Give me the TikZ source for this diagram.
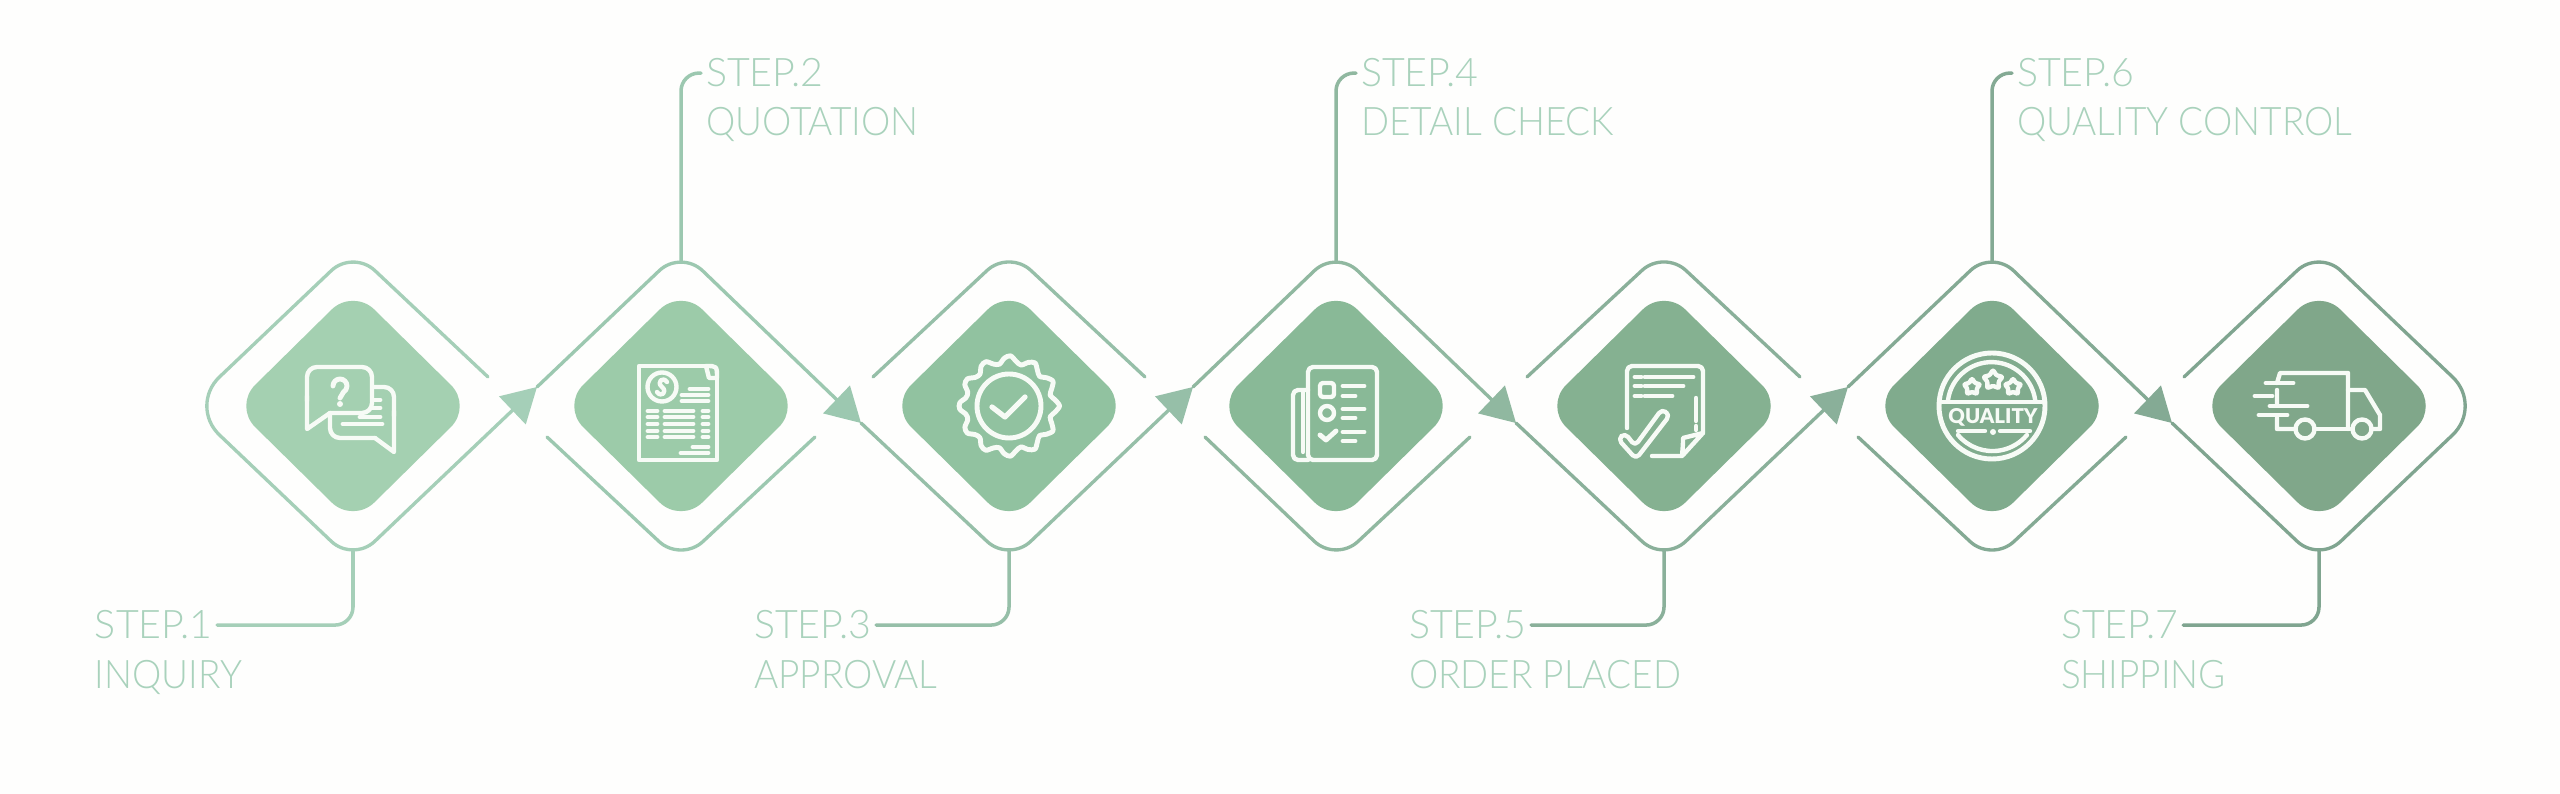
\documentclass[tikz,border=0pt]{standalone}
\usepackage{fontspec}
\setmainfont{Lato}[UprightFont=* Light,BoldFont=* Black]
\usetikzlibrary{positioning}
\usetikzlibrary{shapes.geometric}
\usetikzlibrary{arrows.meta}
\definecolor{paper}{HTML}{FEFEFD}
\definecolor{labeltext}{HTML}{A9D2BC}
\definecolor{iconwhite}{HTML}{F7FBF6}
\definecolor{fillA}{HTML}{A4D0B1}
\definecolor{fillB}{HTML}{9CCBA9}
\definecolor{fillC}{HTML}{91C2A0}
\definecolor{fillD}{HTML}{89B997}
\definecolor{fillE}{HTML}{85B191}
\definecolor{fillF}{HTML}{80AB8D}
\definecolor{fillG}{HTML}{80A78A}
\definecolor{lineA}{HTML}{A5CFB8}
\definecolor{lineB}{HTML}{9CC8B0}
\definecolor{lineC}{HTML}{96BFA8}
\definecolor{lineD}{HTML}{90B8A0}
\definecolor{lineE}{HTML}{8AB09A}
\definecolor{lineF}{HTML}{84AA94}
\definecolor{lineG}{HTML}{80A590}
\tikzstyle{every node}=[font=\fontsize{11.2}{13}\selectfont,inner sep=0,outer sep=0]
\tikzstyle{every path}=[line width=0.95pt,line cap=round,line join=round]
\tikzstyle{ring}=[diamond,minimum width=3.28cm,minimum height=3.12cm]
\tikzstyle{core}=[diamond,minimum width=2.385cm,minimum height=2.35cm,rounded corners=0.3cm]
\tikzstyle{edge}=[rounded corners=0.3cm]
\tikzstyle{flow}=[edge,-{Triangle[length=0.34cm,width=0.38cm]}]
\tikzstyle{leader}=[rounded corners=0.18cm,line width=1pt,shorten >=0.05cm]
\tikzstyle{steptext}=[anchor=base west,text=labeltext]
\tikzstyle{titletext}=[anchor=base west,text=labeltext,font=\fontsize{11.2}{13}\selectfont\addfontfeature{FakeStretch=0.94}]
\tikzstyle{icon}=[draw=iconwhite,line width=1.25pt]
\tikzstyle{bar}=[draw=iconwhite,line width=1.4pt]

\begin{document}
\begin{tikzpicture}
  \path[use as bounding box,fill=paper] (0,0) rectangle (25.6,7.94);
  % outer frames, only used for their corners
  \node[ring] (r1) at (3.53,3.88) {};
  \node[ring] (r2) at (6.81,3.88) {};
  \node[ring] (r3) at (10.09,3.88) {};
  \node[ring] (r4) at (13.36,3.88) {};
  \node[ring] (r5) at (16.64,3.88) {};
  \node[ring] (r6) at (19.92,3.88) {};
  \node[ring] (r7) at (23.19,3.88) {};
  % filled centres
  \node[core,fill=fillA] (d1) at (r1) {};
  \node[core,fill=fillB] (d2) at (r2) {};
  \node[core,fill=fillC] (d3) at (r3) {};
  \node[core,fill=fillD] (d4) at (r4) {};
  \node[core,fill=fillE] (d5) at (r5) {};
  \node[core,fill=fillF] (d6) at (r6) {};
  \node[core,fill=fillG] (d7) at (r7) {};
  % arrow ends and loose ends of the frames
  \coordinate (tip1) at (5.37,4.07);
  \coordinate (tip2) at (8.61,3.71);
  \coordinate (tip3) at (11.93,4.07);
  \coordinate (tip4) at (15.16,3.71);
  \coordinate (tip5) at (18.48,4.07);
  \coordinate (tip6) at (21.72,3.71);
  \coordinate (end1) at (4.88,4.17);
  \coordinate (in2) at (5.47,3.57);
  \coordinate (out2) at (8.15,3.57);
  \coordinate (in3) at (8.73,4.17);
  \coordinate (out3) at (11.45,4.17);
  \coordinate (in4) at (12.05,3.57);
  \coordinate (out4) at (14.70,3.57);
  \coordinate (in5) at (15.27,4.17);
  \coordinate (out5) at (18.00,4.17);
  \coordinate (in6) at (18.58,3.57);
  \coordinate (out6) at (21.26,3.57);
  \coordinate (end7) at (21.84,4.17);
  % frames
  \draw[flow,draw=lineA] (end1) -- (r1.north) [rounded corners=0.42cm] -- (r1.west) [rounded corners=0.3cm] -- (r1.south) -- (tip1);
  \draw[flow,draw=lineB] (tip1) -- (r2.north) -- (tip2);
  \draw[edge,draw=lineB] (in2) -- (r2.south) -- (out2);
  \draw[flow,draw=lineC] (tip2) -- (r3.south) -- (tip3);
  \draw[edge,draw=lineC] (in3) -- (r3.north) -- (out3);
  \draw[flow,draw=lineD] (tip3) -- (r4.north) -- (tip4);
  \draw[edge,draw=lineD] (in4) -- (r4.south) -- (out4);
  \draw[flow,draw=lineE] (tip4) -- (r5.south) -- (tip5);
  \draw[edge,draw=lineE] (in5) -- (r5.north) -- (out5);
  \draw[flow,draw=lineF] (tip5) -- (r6.north) -- (tip6);
  \draw[edge,draw=lineF] (in6) -- (r6.south) -- (out6);
  \draw[edge,draw=lineG] (tip6) -- (r7.south) [rounded corners=0.42cm] -- (r7.east) [rounded corners=0.3cm] -- (r7.north) -- (end7);
  % labels
  \node[steptext] (s1) at (0.95,1.55) {STEP.1};
  \node[titletext] (t1) at (0.95,1.05) {INQUIRY};
  \node[steptext] (s2) at (7.06,7.07) {STEP.2};
  \node[titletext] (t2) at (7.06,6.58) {QUOTATION};
  \node[steptext] (s3) at (7.54,1.55) {STEP.3};
  \node[titletext] (t3) at (7.54,1.05) {APPROVAL};
  \node[steptext] (s4) at (13.61,7.07) {STEP.4};
  \node[titletext] (t4) at (13.61,6.58) {DETAIL CHECK};
  \node[steptext] (s5) at (14.09,1.55) {STEP.5};
  \node[titletext] (t5) at (14.09,1.05) {ORDER PLACED};
  \node[steptext] (s6) at (20.17,7.07) {STEP.6};
  \node[titletext] (t6) at (20.17,6.58) {QUALITY CONTROL};
  \node[steptext] (s7) at (20.61,1.55) {STEP.7};
  \node[titletext] (t7) at (20.61,1.05) {SHIPPING};
  % leaders
  \draw[leader,draw=lineA] ([yshift=0.12cm]r1.south) |- (s1.east);
  \draw[leader,draw=lineB] ([yshift=-0.12cm]r2.north) |- (s2.west);
  \draw[leader,draw=lineC] ([yshift=0.12cm]r3.south) |- (s3.east);
  \draw[leader,draw=lineD] ([yshift=-0.12cm]r4.north) |- (s4.west);
  \draw[leader,draw=lineE] ([yshift=0.12cm]r5.south) |- (s5.east);
  \draw[leader,draw=lineF] ([yshift=-0.12cm]r6.north) |- (s6.west);
  \draw[leader,draw=lineG] ([yshift=0.12cm]r7.south) |- (s7.east);
  % speech bubbles
  \begin{scope}[shift={(d1.center)}]
    \draw[icon,rounded corners=0.1cm] (-0.23,-0.07) -- (0.19,-0.07) -- (0.19,0.39) -- (-0.46,0.39) -- (-0.46,0.05);
    \draw[icon] (-0.46,0.1) -- (-0.46,-0.23) -- (-0.23,-0.07);
    \draw[icon,rounded corners=0.1cm] (0.2,0.19) -- (0.41,0.19) -- (0.41,-0.1);
    \draw[icon] (0.41,-0.05) -- (0.41,-0.46) -- (0.22,-0.32);
    \draw[icon,rounded corners=0.1cm] (0.22,-0.32) -- (-0.23,-0.32) -- (-0.23,-0.09);
    \draw[bar] (-0.1,-0.18) -- (0.29,-0.18) (0.07,-0.11) -- (0.27,-0.11) (0.2,-0.02) -- (0.27,-0.02) (0.21,0.06) -- (0.27,0.06);
    \draw[bar] (-0.2,0.2) arc (180:-60:0.07) -- (-0.13,0.08);
    \fill[iconwhite] (-0.13,0.02) circle (0.03);
  \end{scope}
  % quotation sheet
  \begin{scope}[shift={(d2.center)}]
    \draw[icon] (0.25,0.4) -- (-0.42,0.4) -- (-0.42,-0.54) -- (0.36,-0.54) -- (0.36,0.28);
    \draw[icon] (0.25,0.4) .. controls (0.36,0.4) .. (0.36,0.28) -- (0.28,0.28) -- (0.25,0.4);
    \draw[icon] (-0.19,0.19) circle (0.145);
    \draw[icon] (-0.14,0.24) .. controls (-0.18,0.3) and (-0.25,0.24) .. (-0.19,0.19) .. controls (-0.13,0.14) and (-0.2,0.08) .. (-0.24,0.14);
    \draw[bar] (0.09,0.17) -- (0.27,0.17) (0.01,0.11) -- (0.27,0.11) (0.01,0.05) -- (0.27,0.05);
    \draw[bar] (-0.33,-0.05) -- (-0.24,-0.05) (-0.16,-0.05) -- (0.12,-0.05) (0.22,-0.05) -- (0.27,-0.05);
    \draw[bar] (-0.33,-0.11) -- (-0.24,-0.11) (-0.16,-0.11) -- (0.12,-0.11) (0.22,-0.11) -- (0.27,-0.11);
    \draw[bar] (-0.33,-0.18) -- (-0.24,-0.18) (-0.16,-0.18) -- (0.12,-0.18) (0.22,-0.18) -- (0.27,-0.18);
    \draw[bar] (-0.33,-0.25) -- (-0.24,-0.25) (-0.16,-0.25) -- (0.12,-0.25) (0.22,-0.25) -- (0.27,-0.25);
    \draw[bar] (-0.33,-0.31) -- (-0.24,-0.31) (-0.16,-0.31) -- (0.12,-0.31) (0.22,-0.31) -- (0.27,-0.31);
    \draw[bar] (0.12,-0.41) -- (0.27,-0.41) (0,-0.47) -- (0.27,-0.47);
  \end{scope}
  % approval seal
  \begin{scope}[shift={(d3.center)}]
    \draw[icon,line width=1.4pt] plot[smooth cycle,samples=49,domain=0:352.5] ({(0.465+0.04*cos(12*\x))*cos(\x)},{(0.465+0.04*cos(12*\x))*sin(\x)});
    \draw[icon,line width=1.4pt] (0,0) circle (0.32);
    \draw[icon,line width=1.5pt] (-0.17,-0.01) -- (-0.04,-0.11) -- (0.16,0.09);
  \end{scope}
  % check list
  \begin{scope}[shift={(d4.center)}]
    \draw[icon,rounded corners=0.05cm] (-0.28,-0.54) rectangle (0.41,0.39);
    \draw[icon,rounded corners=0.05cm] (-0.28,0.16) -- (-0.43,0.16) -- (-0.43,-0.54) -- (-0.28,-0.54);
    \draw[icon] (-0.33,0.14) -- (-0.33,-0.46);
    \draw[icon,rounded corners=0.03cm] (-0.16,0.09) rectangle (-0.02,0.23);
    \draw[icon] (-0.09,-0.07) circle (0.07);
    \draw[bar] (-0.16,-0.29) -- (-0.1,-0.34) -- (0,-0.25);
    \draw[bar] (0.07,0.2) -- (0.28,0.2) (0.07,0.1) -- (0.19,0.1) (0.07,-0.03) -- (0.28,-0.03) (0.07,-0.12) -- (0.19,-0.12) (0.07,-0.26) -- (0.28,-0.26) (0.07,-0.35) -- (0.19,-0.35);
  \end{scope}
  % placed order
  \begin{scope}[shift={(d5.center)}]
    \draw[icon,rounded corners=0.05cm] (-0.37,-0.22) -- (-0.37,0.4) -- (0.39,0.4) -- (0.39,-0.27);
    \draw[icon] (-0.12,-0.5) -- (0.18,-0.5) .. controls (0.19,-0.38) .. (0.19,-0.32) -- (0.39,-0.27) -- (0.19,-0.49);
    \draw[bar] (-0.29,0.29) -- (-0.23,0.29) (-0.19,0.29) -- (0.29,0.29) (-0.29,0.2) -- (-0.23,0.2) (-0.19,0.2) -- (0.19,0.2) (-0.29,0.1) -- (-0.23,0.1) (-0.19,0.1) -- (0.08,0.1);
    \draw[icon] (0.32,0.08) -- (0.32,-0.15) (0.32,-0.2) -- (0.32,-0.24);
    \draw[icon,rounded corners=0.05cm] (-0.46,-0.33) -- (-0.28,-0.53) -- (0.06,-0.09) -- (-0.02,-0.03) -- (-0.29,-0.4) -- (-0.39,-0.27) -- cycle;
  \end{scope}
  % quality stamp
  \begin{scope}[shift={(d6.center)}]
    \draw[icon,line width=1.4pt] (0,0) circle (0.53);
    \draw[icon] (-0.44,0.06) arc (172:8:0.44);
    \draw[icon] (-0.34,-0.29) arc (220:320:0.45);
    \draw[icon] (-0.5,0.04) -- (0.5,0.04);
    \draw[icon] (-0.34,-0.25) -- (-0.07,-0.25) (0.08,-0.25) -- (0.38,-0.25);
    \fill[iconwhite] (0.01,-0.26) circle (0.03);
    \node[star,star points=5,star point ratio=1.7,draw=iconwhite,line width=1.25pt,minimum size=0.17cm,rounded corners=0.01cm] (star1) at (-0.2,0.19) {};
    \node[star,star points=5,star point ratio=1.7,draw=iconwhite,line width=1.25pt,minimum size=0.2cm,rounded corners=0.01cm] (star2) at (0.01,0.26) {};
    \node[star,star points=5,star point ratio=1.7,draw=iconwhite,line width=1.25pt,minimum size=0.17cm,rounded corners=0.01cm] (star3) at (0.21,0.19) {};
    \node[text=iconwhite,font=\fontsize{5.8}{6}\selectfont\bfseries] (stamp) at (0.01,-0.11) {QUALITY};
  \end{scope}
  % delivery truck
  \begin{scope}[shift={(d7.center)}]
    \draw[icon] (-0.42,0.23) -- (-0.39,0.33) -- (0.29,0.33) -- (0.29,-0.23) (-0.42,0.16) -- (-0.42,0.02) (-0.42,-0.12) -- (-0.42,-0.23) -- (-0.24,-0.23);
    \draw[icon] (-0.04,-0.23) -- (0.31,-0.23);
    \draw[icon] (0.29,0.16) -- (0.46,0.16) -- (0.61,-0.09) -- (0.61,-0.23) -- (0.54,-0.23);
    \draw[icon] (-0.14,-0.23) circle (0.095);
    \draw[icon] (0.43,-0.23) circle (0.095);
    \draw[bar] (-0.53,0.23) -- (-0.26,0.23) (-0.64,0.1) -- (-0.47,0.1) (-0.49,0) -- (-0.12,0) (-0.6,-0.09) -- (-0.32,-0.09);
  \end{scope}
\end{tikzpicture}
\end{document}
